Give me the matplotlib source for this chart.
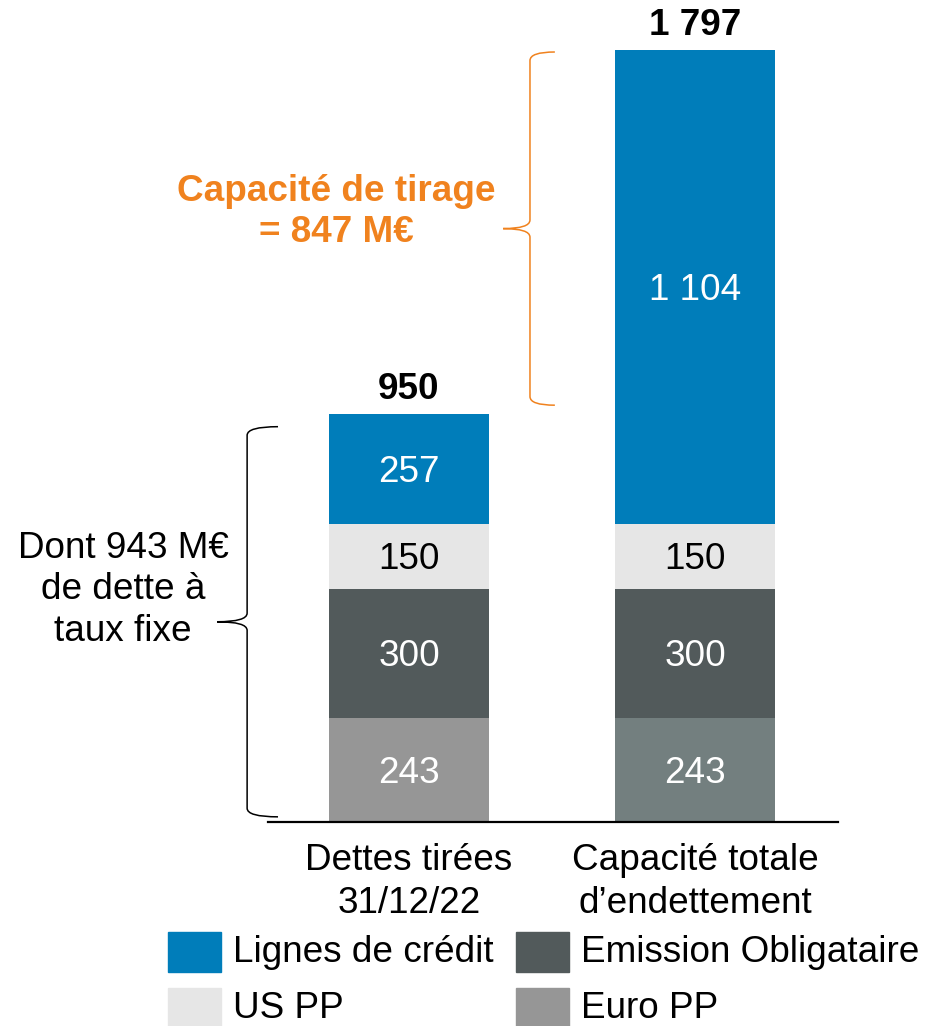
import matplotlib.pyplot as plt
from matplotlib.path import Path
from matplotlib.patches import PathPatch, Rectangle

plt.rcParams['font.family'] = ['Liberation Sans', 'DejaVu Sans']

# data
categories = ["Dettes tirées\n31/12/22", "Capacité totale\nd\u2019endettement"]
euro_pp = [243, 243]
emission = [300, 300]
us_pp = [150, 150]
lignes = [257, 1104]
totals = [950, 1797]
fixed_debt = 943
drawing_capacity = 847

series = [
    ("Euro PP", euro_pp, ["#969696", "#737F7F"], "white"),
    ("Emission Obligataire", emission, ["#525A5B", "#525A5B"], "white"),
    ("US PP", us_pp, ["#E6E6E6", "#E6E6E6"], "black"),
    ("Lignes de crédit", lignes, ["#007DBA", "#007DBA"], "white"),
]
ORANGE = "#F0821E"
FS = 26.6

W, H = 928, 1026
fig = plt.figure(figsize=(W / 100, H / 100), dpi=100)
ax = fig.add_axes([268 / W, 204 / H, 570 / W, 822 / H])

x = [0, 1]
bottom = [0, 0]
for name, vals, cols, tcol in series:
    bars = ax.bar(x, vals, width=0.56, bottom=bottom, color=cols, label=name)
    for xi, v, b in zip(x, vals, bottom):
        ax.text(xi, b + v / 2 - 8, f"{v:,}".replace(",", " "), ha="center", va="center",
                color=tcol, fontsize=FS)
    bottom = [b + v for b, v in zip(bottom, vals)]

for xi, t in zip(x, totals):
    ax.text(xi, t + 15, f"{t:,}".replace(",", " "), ha="center", va="bottom",
            fontsize=FS, fontweight="bold")

ax.set_xlim(-0.493, 1.5)
ax.set_ylim(0, 1913)
for s in ["top", "right", "left"]:
    ax.spines[s].set_visible(False)
ax.spines["bottom"].set_linewidth(1.6)
ax.set_yticks([])
ax.set_xticks(x)
ax.set_xticklabels(categories, fontsize=FS, linespacing=1.3)
ax.tick_params(axis="x", length=0, pad=15)


def brace(ax, x_tip, x_vert, x_end, y0, y1, color):
    ym = (y0 + y1) / 2
    ry = 20
    verts = [(x_end, y1), (x_vert, y1), (x_vert, y1 - ry),
             (x_vert, ym + ry), (x_vert, ym), (x_tip, ym),
             (x_vert, ym), (x_vert, ym - ry),
             (x_vert, y0 + ry), (x_vert, y0), (x_end, y0)]
    codes = [Path.MOVETO, Path.CURVE3, Path.CURVE3,
             Path.LINETO, Path.CURVE3, Path.CURVE3,
             Path.CURVE3, Path.CURVE3,
             Path.LINETO, Path.CURVE3, Path.CURVE3]
    ax.add_patch(PathPatch(Path(verts, codes), fill=False, edgecolor=color,
                           linewidth=1.1, clip_on=False))


# fixed-rate debt brace (left bar) and drawing capacity brace (right bar)
brace(ax, -0.671, -0.566, -0.458, 12, totals[0] - 30, "black")
brace(ax, 0.329, 0.423, 0.510, totals[0] + 20, totals[1] - 5, ORANGE)

ax.text(-1.0, 540, f"Dont {fixed_debt} M€\nde dette à\ntaux fixe",
        ha="center", va="center", fontsize=FS, linespacing=1.25)
ax.text(-0.253, (totals[0] + totals[1]) / 2 + 46,
        f"Capacité de tirage\n= {drawing_capacity} M€",
        ha="center", va="center", fontsize=FS, fontweight="bold", color=ORANGE,
        linespacing=1.25)

# legend, drawn by hand in figure pixels
legend_items = [("Lignes de crédit", "#007DBA", 168, 932),
                ("Emission Obligataire", "#525A5B", 516, 932),
                ("US PP", "#E6E6E6", 168, 988),
                ("Euro PP", "#969696", 516, 988)]
for label, col, px, py in legend_items:
    fig.patches.append(Rectangle((px / W, 1 - (py + 40) / H), 53 / W, 40 / H,
                                 transform=fig.transFigure, color=col))
    fig.text((px + 65) / W, 1 - (py + 21) / H, label, fontsize=FS, va="center")

fig.savefig("out.png", dpi=100)
